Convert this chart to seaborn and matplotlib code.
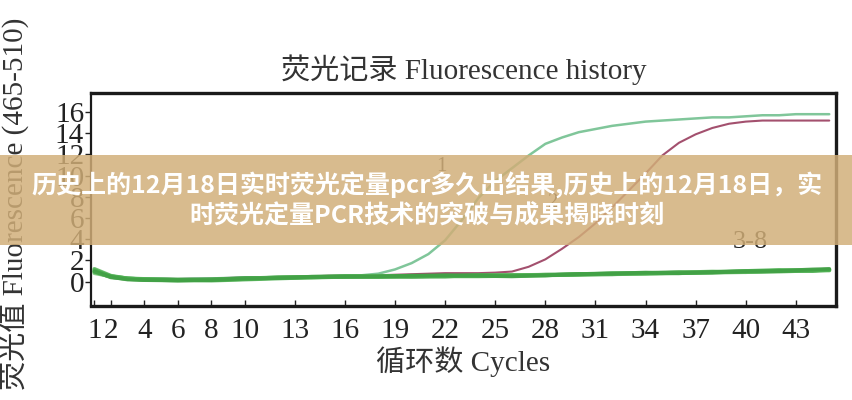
import matplotlib
matplotlib.use("Agg")
import matplotlib.pyplot as plt
import seaborn as sns
import pandas as pd
from matplotlib.patches import Rectangle

# ---------------- data ----------------
cycles = list(range(1, 46))

sample1 = [0.9, 0.5, 0.35, 0.3, 0.3, 0.25, 0.3, 0.3, 0.35, 0.4,
           0.4, 0.45, 0.45, 0.5, 0.5, 0.55, 0.6, 0.75, 1.15, 1.75,
           2.6, 3.9, 5.8, 7.9, 9.5, 10.7, 11.9, 13.0, 13.6, 14.1,
           14.4, 14.7, 14.9, 15.1, 15.2, 15.3, 15.4, 15.5, 15.5, 15.6,
           15.7, 15.7, 15.8, 15.8, 15.8]

sample2 = [0.9, 0.5, 0.35, 0.3, 0.3, 0.25, 0.3, 0.3, 0.35, 0.4,
           0.4, 0.45, 0.45, 0.5, 0.55, 0.55, 0.55, 0.6, 0.65, 0.7,
           0.75, 0.8, 0.8, 0.8, 0.85, 0.95, 1.4, 2.1, 3.1, 4.2,
           5.5, 7.0, 8.6, 10.2, 11.9, 13.1, 13.9, 14.5, 14.9, 15.1,
           15.2, 15.2, 15.2, 15.2, 15.2]

base_cycles = [1, 2, 3, 4, 6, 8, 10, 12, 14, 16, 18, 20, 22, 24, 26,
               28, 30, 32, 34, 36, 38, 40, 42, 44, 45]
sample3 = [1.1, 0.5, 0.3, 0.2, 0.15, 0.2, 0.3, 0.4, 0.45, 0.5, 0.5, 0.5, 0.55,
           0.55, 0.6, 0.6, 0.7, 0.75, 0.8, 0.85, 0.9, 0.95, 1.0, 1.1, 1.1]
sample4 = [0.9, 0.45, 0.25, 0.15, 0.1, 0.15, 0.25, 0.35, 0.4, 0.45, 0.45, 0.5, 0.5,
           0.5, 0.55, 0.6, 0.65, 0.7, 0.75, 0.8, 0.85, 0.9, 0.95, 1.05, 1.1]
sample5 = [1.0, 0.4, 0.25, 0.2, 0.1, 0.2, 0.3, 0.35, 0.45, 0.5, 0.5, 0.45, 0.5,
           0.6, 0.55, 0.65, 0.7, 0.7, 0.8, 0.9, 0.85, 1.0, 1.0, 1.05, 1.15]
sample6 = [0.8, 0.5, 0.3, 0.2, 0.2, 0.15, 0.25, 0.4, 0.4, 0.45, 0.55, 0.5, 0.55,
           0.55, 0.6, 0.65, 0.65, 0.75, 0.75, 0.85, 0.95, 0.9, 1.05, 1.1, 1.05]
sample7 = [1.2, 0.55, 0.3, 0.25, 0.15, 0.1, 0.2, 0.3, 0.4, 0.5, 0.45, 0.55, 0.5,
           0.6, 0.6, 0.6, 0.7, 0.8, 0.8, 0.8, 0.9, 1.0, 1.1, 1.0, 1.1]
sample8 = [0.95, 0.45, 0.2, 0.15, 0.15, 0.15, 0.3, 0.35, 0.45, 0.45, 0.5, 0.55, 0.6,
           0.55, 0.5, 0.6, 0.7, 0.75, 0.85, 0.8, 0.9, 0.95, 1.0, 1.15, 1.2]

xtick_vals = [1, 2, 4, 6, 8, 10, 13, 16, 19, 22, 25, 28, 31, 34, 37, 40, 43]
ytick_vals = [0, 2, 4, 6, 8, 10, 12, 14, 16]

title_text = "荧光记录 Fluorescence history"
xlabel_text = "循环数 Cycles"
ylabel_text = "荧光值 Fluorescence (465-510)"
banner_line1 = "历史上的12月18日实时荧光定量pcr多久出结果,历史上的12月18日，实"
banner_line2 = "时荧光定量PCR技术的突破与成果揭晓时刻"

# ---------------- style ----------------
sns.set_theme(style="white")
plt.rcParams['font.family'] = ['Liberation Serif', 'Noto Sans CJK SC']
plt.rcParams['axes.unicode_minus'] = False

fig = plt.figure(figsize=(8.53, 4.0), dpi=100)
ax = fig.add_axes([0.1067, 0.235, 0.8733, 0.5325])

df_s1 = pd.DataFrame({"cycle": cycles, "value": sample1})
df_s2 = pd.DataFrame({"cycle": cycles, "value": sample2})

sns.lineplot(data=df_s2, x="cycle", y="value", ax=ax, color="#a3506e",
             linewidth=1.5, zorder=2)
sns.lineplot(data=df_s1, x="cycle", y="value", ax=ax, color="#80c69a",
             linewidth=1.8, zorder=2)

greens = ["#4caf50", "#5cb85c", "#43a047", "#6abf6a", "#4caf50", "#3f9e43"]
for s, c in zip([sample3, sample4, sample5, sample6, sample7, sample8], greens):
    d = pd.DataFrame({"cycle": base_cycles, "value": s})
    sns.lineplot(data=d, x="cycle", y="value", ax=ax, color=c,
                 linewidth=2.8, alpha=0.8, zorder=3)

ax.text(21.8, 10.9, "1", fontsize=15, color="#333333", ha="center", va="center")
ax.text(28.4, 7.5, "2", fontsize=15, color="#333333", ha="center", va="center")
ax.text(40.3, 3.7, "3-8", fontsize=19, color="#222222", ha="center", va="center")

ax.set_xlim(0.8, 45.4)
ax.set_ylim(-2.3, 17.8)
ax.set_xticks(xtick_vals)
ax.set_xticklabels([str(v) for v in xtick_vals])
ax.set_yticks(ytick_vals)
ax.set_yticklabels([str(v) for v in ytick_vals])
ax.tick_params(axis='x', direction='in', length=4, width=1, pad=9,
               labelsize=21, colors='#222222', bottom=True)
ax.tick_params(axis='y', direction='out', length=4, width=1, pad=1,
               labelsize=21, colors='#222222', left=True)
for side, spine in ax.spines.items():
    spine.set_visible(True)
    spine.set_color('#1a1a1a')
    spine.set_linewidth(2.4 if side != 'left' else 1.6)
ax.grid(False)
ax.set_facecolor('white')

ax.set_title(title_text, fontsize=21, color='#333333', pad=10)
ax.set_xlabel(xlabel_text, fontsize=21, color='#333333')
ax.set_ylabel(ylabel_text, fontsize=21, color='#333333')
ax.xaxis.set_label_coords(0.5, -0.19)
ax.yaxis.set_label_coords(-0.082, 0.48)

# banner overlay
fig.patches.append(Rectangle((0, 0.3875), 1, 0.225, transform=fig.transFigure,
                             facecolor=(209/255, 174/255, 120/255), alpha=0.84,
                             edgecolor='none', zorder=10))
fig.text(0.5, 0.5375, banner_line1, ha='center', va='center', color='white',
         fontsize=18, fontweight='bold', family=['Noto Sans CJK SC'], zorder=11)
fig.text(0.5, 0.46, banner_line2, ha='center', va='center', color='white',
         fontsize=18, fontweight='bold', family=['Noto Sans CJK SC'], zorder=11)

fig.savefig("out.png", dpi=100)
